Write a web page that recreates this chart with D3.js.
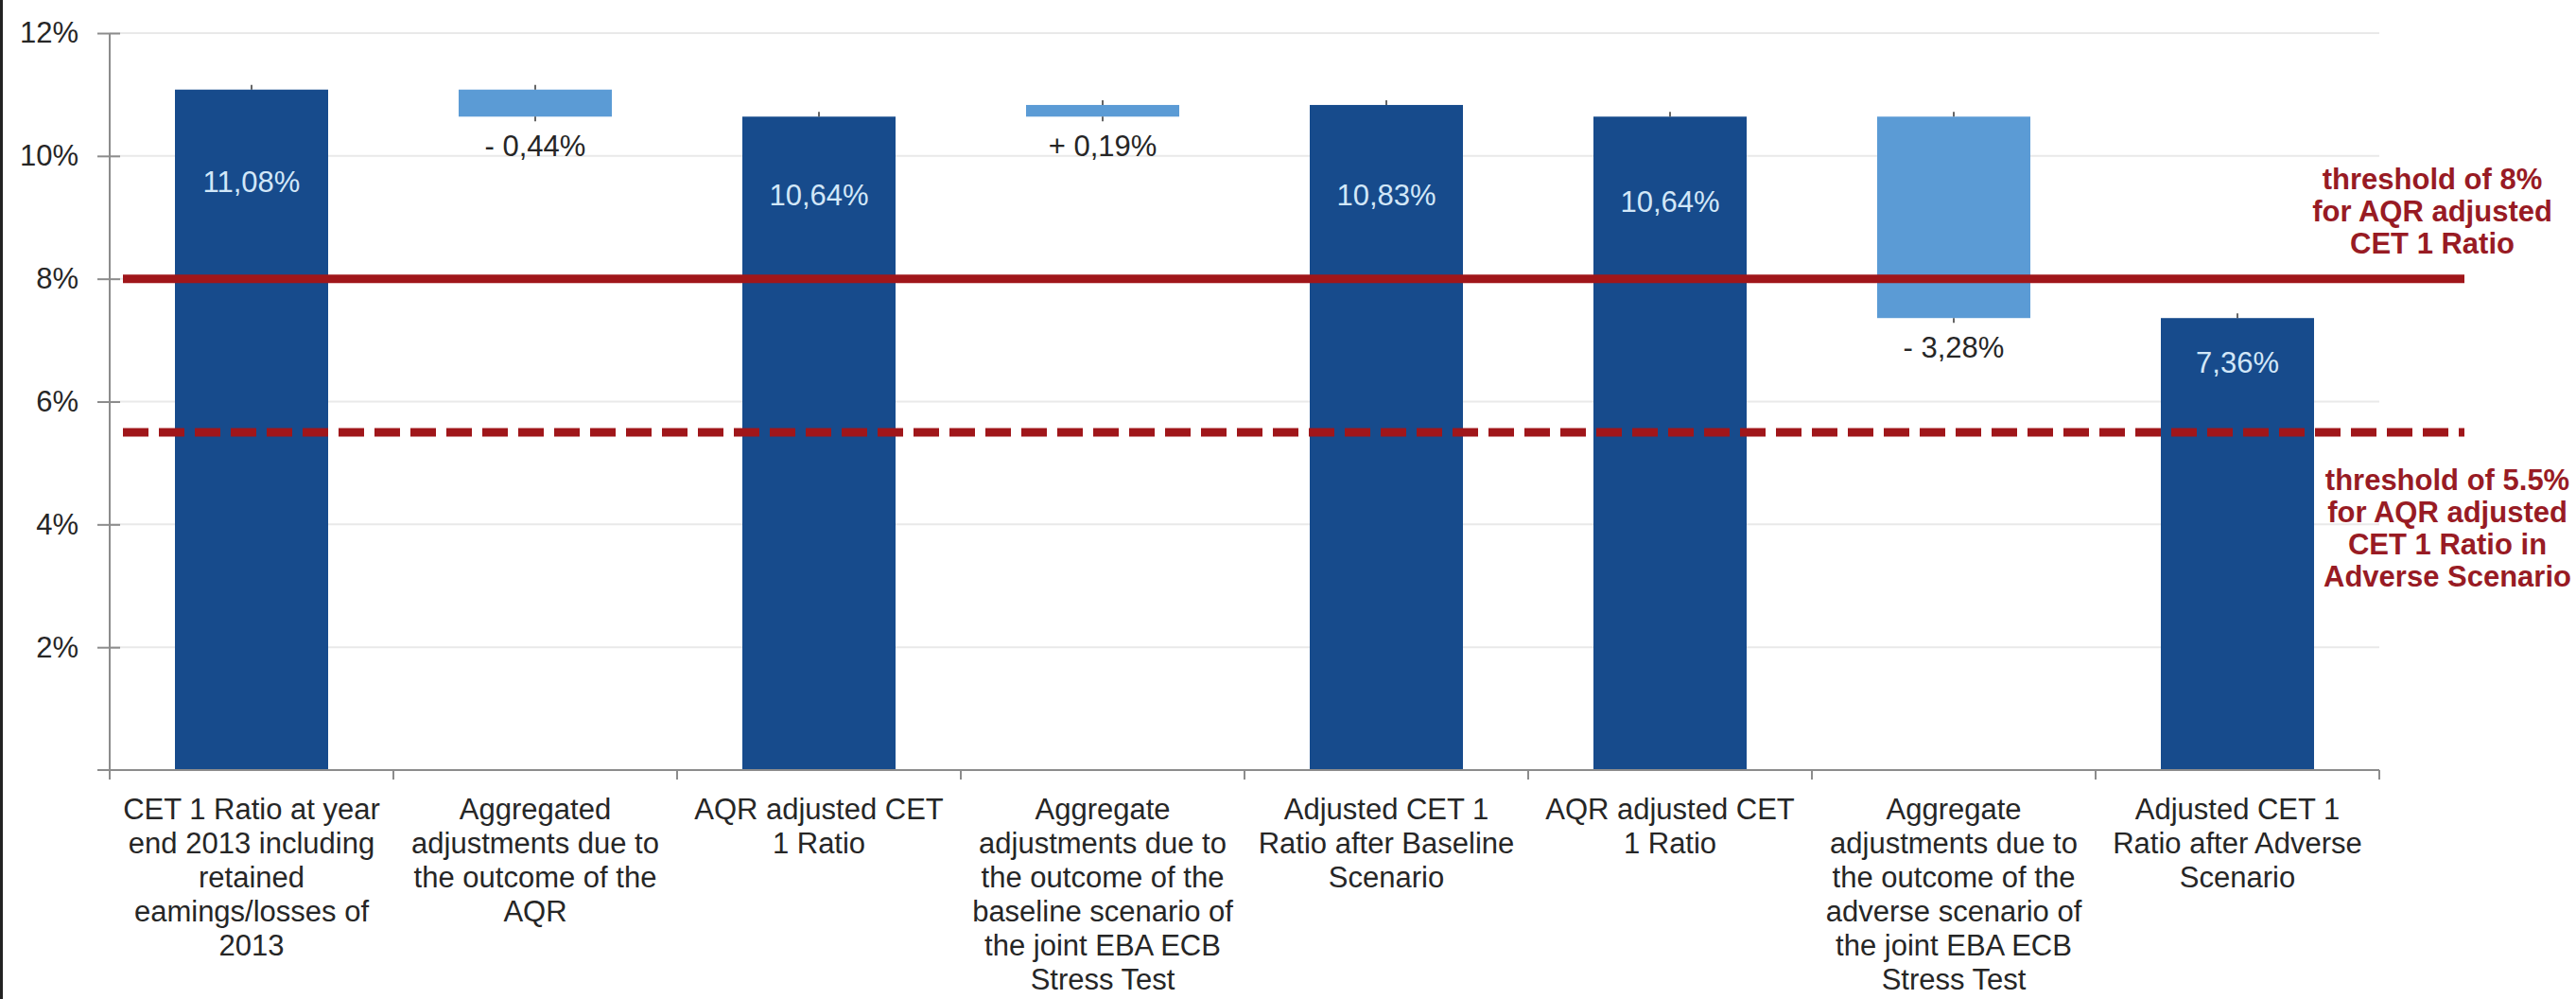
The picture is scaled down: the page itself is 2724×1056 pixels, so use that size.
<!DOCTYPE html>
<html>
<head>
<meta charset="utf-8">
<script src="https://cdn.jsdelivr.net/npm/d3@7"></script>
<style>
  html, body { margin: 0; padding: 0; background: #ffffff; }
  svg { display: block; }
  text { font-family: "Liberation Sans", Arial, Helvetica, sans-serif; }
</style>
</head>
<body>
<svg id="chart" width="2724" height="1056"></svg>
<script>
// ---- data ----------------------------------------------------------------
const categories = [
  ["CET 1 Ratio at year", "end 2013 including", "retained", "eamings/losses of", "2013"],
  ["Aggregated", "adjustments due to", "the outcome of the", "AQR"],
  ["AQR adjusted CET", "1 Ratio"],
  ["Aggregate", "adjustments due to", "the outcome of the", "baseline scenario of", "the joint EBA ECB", "Stress Test"],
  ["Adjusted CET 1", "Ratio after Baseline", "Scenario"],
  ["AQR adjusted CET", "1 Ratio"],
  ["Aggregate", "adjustments due to", "the outcome of the", "adverse scenario of", "the joint EBA ECB", "Stress Test"],
  ["Adjusted CET 1", "Ratio after Adverse", "Scenario"]
];
// "total" bars stand on the axis, "change" bars float from the previous total
const kinds  = ["total", "change", "total", "change", "total", "total", "change", "total"];
const values = [11.08, -0.44, 10.64, 0.19, 10.83, 10.64, -3.28, 7.36];

const yTicks = [2, 4, 6, 8, 10, 12];

const thresholds = [8, 5.5];
const thresholdLabels = [
  ["threshold of 8%", "for AQR adjusted", "CET 1 Ratio"],
  ["threshold of 5.5%", "for AQR adjusted", "CET 1 Ratio in", "Adverse Scenario"]
];

// ---- styling ----------------------------------------------------------------
const W = 2724, H = 1056;
const plot = { left: 116, right: 2516, top: 35, bottom: 814 };
const colTotal = "#174b8c", colChange = "#5b9bd5";
const colRed = "#a0161a", colRedText = "#981b24";
const colText = "#262626", colAxis = "#8c8c8c", colGrid = "#e9e9e9";
const fontSize = 31, lineStep = 36;
// vertical offset of each value label from the bar edge it sits at
const labelOffset = [97, 31, 83, 31, 95, 90, 31, 47];

// ---- derived waterfall segments ------------------------------------------------
let running = 0;
const bars = values.map((v, i) => {
  let lo, hi;
  if (kinds[i] === "total") { lo = 0; hi = v; running = v; }
  else { const start = running; running = start + v; lo = Math.min(start, running); hi = Math.max(start, running); }
  return { i, kind: kinds[i], value: v, lo, hi };
});

const fmtTotal = v => v.toFixed(2).replace(".", ",") + "%";
const fmtChange = v => (v < 0 ? "- " : "+ ") + Math.abs(v).toFixed(2).replace(".", ",") + "%";

// ---- scales ---------------------------------------------------------------------
const x = d3.scaleBand()
  .domain(d3.range(categories.length))
  .range([plot.left, plot.right])
  .paddingInner(0.46)
  .paddingOuter(0.23);
const y = d3.scaleLinear().domain([0, 12]).range([plot.bottom, plot.top]);

const svg = d3.select("#chart");
svg.append("rect").attr("width", W).attr("height", H).attr("fill", "#ffffff");

// frame edge on the left
svg.append("rect").attr("x", 0).attr("y", 0).attr("width", 3).attr("height", H).attr("fill", "#222");

// gridlines
svg.append("g").selectAll("line").data(yTicks).join("line")
  .attr("x1", plot.left).attr("x2", plot.right)
  .attr("y1", d => y(d)).attr("y2", d => y(d))
  .attr("stroke", colGrid).attr("stroke-width", 2);

// y axis
const yAxis = svg.append("g")
  .attr("transform", `translate(${plot.left},0)`)
  .call(d3.axisLeft(y).tickValues(yTicks).tickSize(13).tickPadding(20).tickFormat(d => d + "%"));
yAxis.select(".domain").remove();
yAxis.selectAll(".tick line").attr("stroke", colAxis).attr("stroke-width", 2);
yAxis.selectAll(".tick").append("line")
  .attr("x1", 0).attr("x2", 11).attr("stroke", colAxis).attr("stroke-width", 2);
yAxis.selectAll(".tick text")
  .attr("fill", colText).style("font-size", fontSize + "px");
svg.append("line")
  .attr("x1", plot.left).attr("x2", plot.left)
  .attr("y1", y(12)).attr("y2", y(0) + 10)
  .attr("stroke", colAxis).attr("stroke-width", 2);

// bars
const gap = (x.step() - x.bandwidth()) / 2;
svg.append("g").selectAll("rect").data(bars).join("rect")
  .attr("x", d => x(d.i))
  .attr("width", x.bandwidth())
  .attr("y", d => y(d.hi))
  .attr("height", d => y(d.lo) - y(d.hi))
  .attr("fill", d => d.kind === "total" ? colTotal : colChange);

// little connector ticks at the bar ends
const ends = [];
bars.forEach(d => {
  ends.push({ cx: x(d.i) + x.bandwidth() / 2, y0: y(d.hi), y1: y(d.hi) - 5 });
  if (d.kind === "change") ends.push({ cx: x(d.i) + x.bandwidth() / 2, y0: y(d.lo), y1: y(d.lo) + 5 });
});
svg.append("g").selectAll("line").data(ends).join("line")
  .attr("x1", d => d.cx).attr("x2", d => d.cx)
  .attr("y1", d => d.y0).attr("y2", d => d.y1)
  .attr("stroke", "#333").attr("stroke-width", 1.5);

// x axis baseline and category boundary ticks
svg.append("line")
  .attr("x1", plot.left - 13).attr("x2", plot.right)
  .attr("y1", y(0)).attr("y2", y(0))
  .attr("stroke", colAxis).attr("stroke-width", 2);
const bounds = d3.range(categories.length + 1).map(i =>
  i < categories.length ? x(i) - gap : x(i - 1) + x.bandwidth() + gap);
svg.append("g").selectAll("line").data(bounds).join("line")
  .attr("x1", d => d).attr("x2", d => d)
  .attr("y1", y(0)).attr("y2", y(0) + 10)
  .attr("stroke", colAxis).attr("stroke-width", 2);

// category labels
const catText = svg.append("g").selectAll("text").data(categories).join("text")
  .attr("text-anchor", "middle")
  .attr("fill", colText)
  .style("font-size", fontSize + "px")
  .attr("transform", (d, i) => `translate(${x(i) + x.bandwidth() / 2},${y(0) + 52})`);
catText.selectAll("tspan").data(d => d).join("tspan")
  .attr("x", 0).attr("dy", (d, j) => j === 0 ? 0 : lineStep)
  .text(d => d);

// threshold lines, drawn over the bars
const lineStart = x(0) - 55, lineEnd = plot.right + 90;
svg.append("line")
  .attr("x1", lineStart).attr("x2", lineEnd)
  .attr("y1", y(thresholds[0])).attr("y2", y(thresholds[0]))
  .attr("stroke", colRed).attr("stroke-width", 9);
svg.append("line")
  .attr("x1", lineStart).attr("x2", lineEnd)
  .attr("y1", y(thresholds[1])).attr("y2", y(thresholds[1]))
  .attr("stroke", colRed).attr("stroke-width", 9)
  .attr("stroke-dasharray", "27 11");

// value labels
svg.append("g").selectAll("text").data(bars).join("text")
  .attr("x", d => x(d.i) + x.bandwidth() / 2)
  .attr("y", d => (d.kind === "total" ? y(d.hi) : y(d.lo)) + labelOffset[d.i] + 11)
  .attr("text-anchor", "middle")
  .attr("fill", d => d.kind === "total" ? "#d2e7f8" : colText)
  .style("font-size", fontSize + "px")
  .text(d => d.kind === "total" ? fmtTotal(d.value) : fmtChange(d.value));

// threshold captions
const capX = [2572, 2588];
const capTop = [y(thresholds[0]) - 95, y(thresholds[1]) + 61];
thresholdLabels.forEach((lines, k) => {
  const t = svg.append("text")
    .attr("text-anchor", "middle")
    .attr("fill", colRedText)
    .attr("font-weight", "bold")
    .style("font-size", "31px")
    .attr("transform", `translate(${capX[k]},${capTop[k]})`);
  t.selectAll("tspan").data(lines).join("tspan")
    .attr("x", 0).attr("dy", (d, j) => j === 0 ? 0 : 34)
    .text(d => d);
});
</script>
</body>
</html>
